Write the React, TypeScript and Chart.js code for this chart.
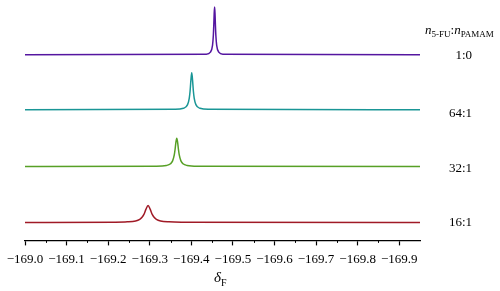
import React, { useEffect, useRef } from "react";
import { Chart, registerables } from "chart.js";

Chart.register(...registerables);

// Chemical shift positions (ppm) and intensities for each spectrum
const ratioLabels = ["1:0", "64:1", "32:1", "16:1"];
const colors = ["#5516a0", "#1a9696", "#57a026", "#a01a26"];
const offsets = [186, 131, 74, 18];

const shift10 = [-169.0, -169.436, -169.446, -169.451, -169.453, -169.454, -169.455, -169.456, -169.457, -169.458, -169.459, -169.461, -169.466, -169.476, -169.95];
const int10 = [0, 0.74, 2.8, 9.6, 19.7, 29.3, 41.4, 48, 41.4, 29.3, 19.7, 9.6, 2.8, 0.74, 0];

const shift641 = [-169.0, -169.361, -169.381, -169.391, -169.395, -169.397, -169.399, -169.401, -169.403, -169.405, -169.407, -169.411, -169.421, -169.441, -169.95];
const int641 = [0, 0.37, 1.42, 5.1, 11.4, 18.5, 29.6, 37, 29.6, 18.5, 11.4, 5.1, 1.42, 0.37, 0];

const shift321 = [-169.0, -169.315, -169.34, -169.35, -169.355, -169.359, -169.361, -169.363, -169.365, -169.367, -169.369, -169.371, -169.375, -169.38, -169.39, -169.415, -169.95];
const int321 = [0, 0.28, 1.1, 2.85, 5.7, 11.7, 17.4, 24.6, 28.5, 24.6, 17.4, 11.7, 5.7, 2.85, 1.1, 0.28, 0];

const shift161 = [-169.0, -169.216, -169.246, -169.266, -169.276, -169.281, -169.286, -169.291, -169.296, -169.301, -169.306, -169.311, -169.316, -169.326, -169.346, -169.376, -169.95];
const int161 = [0, 0.24, 0.59, 1.55, 3.13, 4.87, 8.06, 13.3, 17, 13.3, 8.06, 4.87, 3.13, 1.55, 0.59, 0.24, 0];

const xMin = -169.95;
const xMax = -169.0;

const shifts = [shift10, shift641, shift321, shift161];
const intensities = [int10, int641, int321, int161];

const serif = "'Liberation Serif', 'Times New Roman', serif";

const isMajor = (v: number) => {
  const n = Math.round(v * 100);
  return n % 10 === 0;
};

const minorTicks = {
  id: "minorTicks",
  afterDraw(chart: any) {
    const sc = chart.scales.x;
    const c = chart.ctx;
    c.save();
    c.strokeStyle = "#000";
    c.lineWidth = 1;
    for (const t of sc.ticks) {
      const v = t.value;
      if (isMajor(v) || Math.abs(v - xMin) < 1e-6) continue;
      const px = Math.round(sc.getPixelForValue(v)) + 0.5;
      c.beginPath();
      c.moveTo(px, sc.top);
      c.lineTo(px, sc.top + 2.5);
      c.stroke();
    }
    c.restore();
  },
};

export default function App() {
  const canvasRef = useRef<HTMLCanvasElement>(null);

  useEffect(() => {
    const ctx = canvasRef.current;
    if (!ctx) return;
    const datasets = shifts.map((xs, i) => ({
      label: ratioLabels[i],
      data: xs.map((x, j) => ({ x, y: offsets[i] + intensities[i][j] })),
      borderColor: colors[i],
      backgroundColor: colors[i],
      borderWidth: 1.5,
      pointRadius: 0,
      cubicInterpolationMode: "monotone" as const,
      fill: false,
    }));
    const chart = new Chart(ctx, {
      type: "line",
      data: { datasets },
      plugins: [minorTicks],
      options: {
        animation: false,
        responsive: false,
        maintainAspectRatio: false,
        layout: { padding: { left: 25, right: 80, top: 6, bottom: 18 } },
        plugins: { legend: { display: false }, tooltip: { enabled: false } },
        scales: {
          x: {
            type: "linear",
            reverse: true,
            min: xMin,
            max: xMax,
            grid: {
              drawOnChartArea: false,
              drawTicks: true,
              tickLength: 5,
              tickWidth: 1.2,
              tickColor: (c: any) => (c.tick && isMajor(c.tick.value) ? "#000" : "rgba(0,0,0,0)"),
              color: "#000",
              lineWidth: 1,
            },
            border: { display: true, color: "#000", width: 1.3 },
            ticks: {
              stepSize: 0.05,
              autoSkip: false,
              maxRotation: 0,
              padding: 6,
              color: "#000",
              font: { family: serif, size: 13 },
              callback: (v: any) => {
                if (!isMajor(Number(v))) return "";
                return Number(v).toFixed(1).replace("-", "\u2212");
              },
            },
          },
          y: { type: "linear", display: false, min: 0, max: 235 },
        },
      },
    });
    return () => chart.destroy();
  }, []);

  const labelTops = [55, 113, 168, 222];

  return (
    <div style={{ position: "fixed", left: 0, top: 0, width: 500, height: 291, background: "#fff", fontFamily: serif }}>
      <canvas ref={canvasRef} width={500} height={291} style={{ display: "block", width: 500, height: 291 }} />
      <div style={{ position: "absolute", left: 425, top: 22, fontSize: 13, lineHeight: "16px", color: "#000", whiteSpace: "nowrap" }}>
        <i>n</i>
        <span style={{ fontSize: 9, position: "relative", top: 3 }}>5-FU</span>
        :<i>n</i>
        <span style={{ fontSize: 9, position: "relative", top: 3 }}>PAMAM</span>
      </div>
      {ratioLabels.map((t, i) => (
        <div key={t} style={{ position: "absolute", right: 28, top: labelTops[i] - 8, fontSize: 13, lineHeight: "16px", color: "#000" }}>
          {t}
        </div>
      ))}
      <div style={{ position: "absolute", left: 214, top: 268, fontSize: 15, lineHeight: "18px", color: "#000", whiteSpace: "nowrap" }}>
        <i>δ</i>
        <span style={{ fontSize: 10, position: "relative", top: 4 }}>F</span>
      </div>
    </div>
  );
}
